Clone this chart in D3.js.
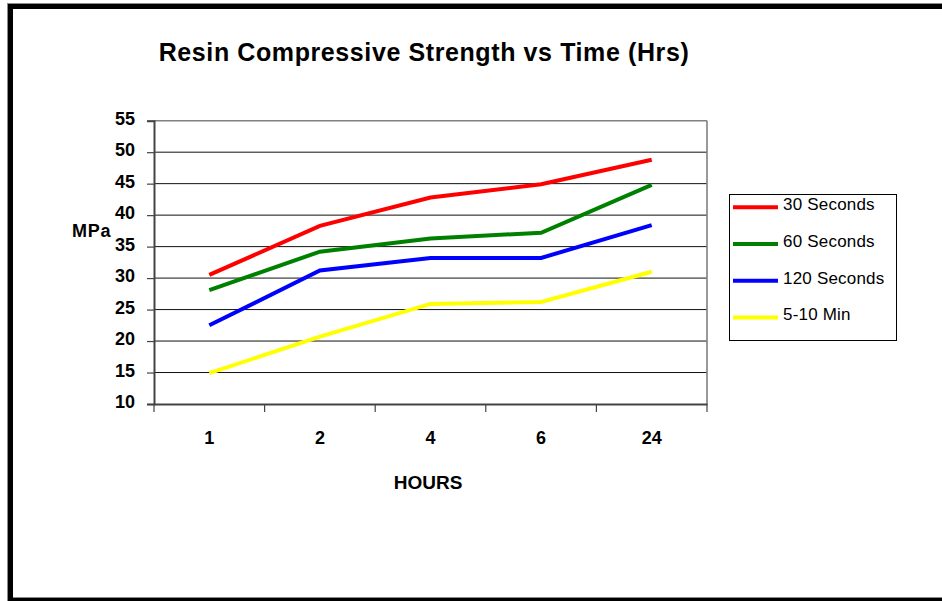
<!DOCTYPE html>
<html>
<head>
<meta charset="utf-8">
<script src="https://cdn.jsdelivr.net/npm/d3@7"></script>
<style>
  html, body { margin: 0; padding: 0; background: #fff; }
  svg { display: block; font-family: "Liberation Sans", Arial, sans-serif; }
</style>
</head>
<body>
<svg id="chart" width="942" height="601"></svg>
<script>
// Categories (hours after mixing) and compressive strength (MPa) per cure time
const hours = ["1", "2", "4", "6", "24"];
const seriesNames = ["30 Seconds", "60 Seconds", "120 Seconds", "5-10 Min"];
const seriesColors = ["#ff0000", "#008000", "#0000ff", "#ffff00"];
const sec30 = [30.5, 38.3, 42.8, 44.9, 48.8];
const sec60 = [28.1, 34.2, 36.3, 37.2, 44.8];
const sec120 = [22.5, 31.2, 33.2, 33.2, 38.4];
const min5to10 = [14.9, 20.7, 25.9, 26.2, 31.0];
const yTicks = [10, 15, 20, 25, 30, 35, 40, 45, 50, 55];

const seriesValues = [sec30, sec60, sec120, min5to10];

const svg = d3.select("#chart");

// Outer frame
svg.append("rect")
  .attr("x", 9.5).attr("y", 5.5).attr("width", 940).attr("height", 594)
  .attr("fill", "none").attr("stroke", "#8a8a8a").attr("stroke-width", 5);
svg.append("rect")
  .attr("x", 10.5).attr("y", 6.5).attr("width", 940).attr("height", 594)
  .attr("fill", "none").attr("stroke", "#000").attr("stroke-width", 5);

const plot = { left: 154, right: 707, top: 120.7, bottom: 404 };

const x = d3.scaleBand().domain(hours).range([plot.left, plot.right]);
const y = d3.scaleLinear().domain([10, 55]).range([plot.bottom, plot.top]);

// Title
svg.append("text")
  .attr("x", 424).attr("y", 61)
  .attr("text-anchor", "middle")
  .attr("font-size", 25).attr("font-weight", "bold")
  .attr("letter-spacing", 0.6)
  .text("Resin Compressive Strength vs Time (Hrs)");

// Horizontal gridlines
svg.append("g").selectAll("line")
  .data(yTicks.slice(1))
  .join("line")
  .attr("x1", plot.left).attr("x2", plot.right)
  .attr("y1", d => y(d)).attr("y2", d => y(d))
  .attr("stroke", d => d === 55 ? "#808080" : "#111")
  .attr("stroke-width", d => d === 55 ? 1.6 : 1);

// Right border of plot area
svg.append("line")
  .attr("x1", plot.right).attr("x2", plot.right)
  .attr("y1", plot.top).attr("y2", plot.bottom)
  .attr("stroke", "#808080").attr("stroke-width", 1.6);

// Y axis
const yAxis = svg.append("g")
  .attr("transform", `translate(${plot.left},0)`)
  .call(d3.axisLeft(y).tickValues(yTicks).tickSize(7).tickPadding(12).tickFormat(d3.format("d")));
yAxis.select(".domain").attr("stroke", "#444").attr("stroke-width", 2);
yAxis.selectAll(".tick line").attr("stroke", "#444").attr("stroke-width", 1.2);
yAxis.selectAll(".tick text")
  .attr("font-size", 18).attr("font-weight", "bold")
  .attr("font-family", "'Liberation Sans', Arial, sans-serif")
  .attr("fill", "#000").attr("dy", "0.2em");

// X axis: labels at category centres, tick marks at category boundaries
const xAxis = svg.append("g")
  .attr("transform", `translate(0,${plot.bottom})`)
  .call(d3.axisBottom(x).tickSize(0).tickPadding(27));
xAxis.select(".domain").attr("stroke", "#444").attr("stroke-width", 2);
xAxis.selectAll(".tick text")
  .attr("font-size", 18).attr("font-weight", "bold")
  .attr("font-family", "'Liberation Sans', Arial, sans-serif")
  .attr("fill", "#000");

const boundaries = hours.map(h => x(h)).concat([plot.right]);
svg.append("g").selectAll("line")
  .data(boundaries)
  .join("line")
  .attr("x1", d => d).attr("x2", d => d)
  .attr("y1", plot.bottom).attr("y2", plot.bottom + 8)
  .attr("stroke", "#444").attr("stroke-width", 1.2);

// Axis titles
svg.append("text")
  .attr("x", 428).attr("y", 489)
  .attr("text-anchor", "middle")
  .attr("font-size", 19).attr("font-weight", "bold")
  .text("HOURS");
svg.append("text")
  .attr("x", 72).attr("y", 237)
  .attr("font-size", 18).attr("font-weight", "bold")
  .attr("letter-spacing", 0.8)
  .text("MPa");

// Series lines
const line = d3.line()
  .x((d, i) => x(hours[i]) + x.bandwidth() / 2)
  .y(d => y(d));

svg.append("g").selectAll("path")
  .data(seriesValues)
  .join("path")
  .attr("d", d => line(d))
  .attr("fill", "none")
  .attr("stroke", (d, i) => seriesColors[i])
  .attr("stroke-width", 4)
  .attr("stroke-linejoin", "miter");

// Legend
const legend = svg.append("g");
legend.append("rect")
  .attr("x", 729.5).attr("y", 194.5).attr("width", 167).attr("height", 146)
  .attr("fill", "#fff").attr("stroke", "#000").attr("stroke-width", 1);
const items = legend.selectAll("g.item")
  .data(seriesNames)
  .join("g")
  .attr("class", "item")
  .attr("transform", (d, i) => `translate(0,${207.3 + i * 36.7})`);
items.append("line")
  .attr("x1", 733).attr("x2", 778)
  .attr("stroke", (d, i) => seriesColors[i])
  .attr("stroke-width", 4);
items.append("text")
  .attr("x", 783).attr("y", 3)
  .attr("font-size", 17)
  .attr("letter-spacing", 0.2)
  .text(d => d);
</script>
</body>
</html>
